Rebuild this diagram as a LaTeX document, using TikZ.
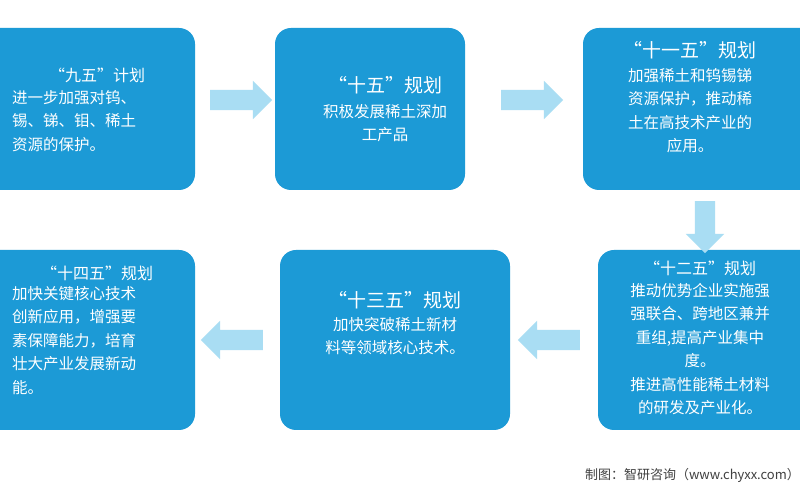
\documentclass[tikz,border=0pt]{standalone}
\usepackage{fontspec}
\setmainfont{Noto Sans CJK SC}
\usetikzlibrary{shapes.arrows}
\definecolor{boxblue}{HTML}{1C9AD6}
\definecolor{arrblue}{HTML}{A9DDF3}
\begin{document}
\begin{tikzpicture}[x=1pt,y=1pt,
  card/.style={fill=boxblue,rounded corners=16pt,draw=none},
  ttl/.style={text=white,font=\fontsize{19}{22}\selectfont},
  ttls/.style={text=white,font=\fontsize{16}{20}\selectfont},
  body/.style={text=white,font=\fontsize{15.5}{23.5}\selectfont,inner sep=0pt},
  barrow/.style={single arrow,fill=arrblue,draw=none,minimum height=62pt,minimum width=38pt,single arrow head extend=9pt,inner sep=0pt}]
\fill[white] (0,0) rectangle (800,500);
\useasboundingbox (0,0) rectangle (800,500);
\path[card] (-20,310) rectangle (195,472); \coordinate (b1) at (97,391);
\path[card] (275,310) rectangle (465,472); \coordinate (b2) at (370,391);
\path[card] (583,310) rectangle (820,472); \coordinate (b3) at (690,391);
\path[card] (598,70) rectangle (820,250); \coordinate (b4) at (700,160);
\path[card] (280,70) rectangle (510,250); \coordinate (b5) at (395,160);
\path[card] (-20,70) rectangle (195,250); \coordinate (b6) at (97,160);
\node[barrow] (a1) at (236,400) {\rule{36pt}{0pt}\rule{0pt}{20pt}};
\node[barrow] (a2) at (527,400) {\rule{36pt}{0pt}\rule{0pt}{20pt}};
\node[barrow,rotate=-90,minimum height=52pt] (a3) at (705,278) {\rule{28pt}{0pt}\rule{0pt}{20pt}};
\node[barrow,rotate=180] (a4) at (554,160) {\rule{36pt}{0pt}\rule{0pt}{20pt}};
\node[barrow,rotate=180] (a5) at (237,160) {\rule{36pt}{0pt}\rule{0pt}{20pt}};
\node[ttls] (t1) at (97,425) {“九五”计划};
\node[body,align=left,anchor=north west] (x1) at (12,410) {进一步加强对钨、\\锡、锑、钼、稀土\\资源的保护。};
\node[ttl] (t2) at (385,415) {“十五”规划};
\node[body,align=center,anchor=north] (x2) at (385,396) {积极发展稀土深加\\工产品};
\node[ttl] (t3) at (690,450) {“十一五”规划};
\node[body,align=center,anchor=north] (x3) at (690,432) {加强稀土和钨锡锑\\资源保护，推动稀\\土在高技术产业的\\应用。};
\node[ttls] (t4) at (700,232) {“十二五”规划};
\node[body,align=center,anchor=north] (x4) at (700,217) {推动优势企业实施强\\强联合、跨地区兼并\\重组,提高产业集中\\度。\\推进高性能稀土材料\\的研发及产业化。};
\node[ttl] (t5) at (395,200) {“十三五”规划};
\node[body,align=center,anchor=north] (x5) at (395,183) {加快突破稀土新材\\料等领域核心技术。};
\node[ttls] (t6) at (97,227) {“十四五”规划};
\node[body,align=left,anchor=north west] (x6) at (12,214) {加快关键核心技术\\创新应用，增强要\\素保障能力，培育\\壮大产业发展新动\\能。};
\node[text=black!75,font=\fontsize{13}{15}\selectfont,anchor=east,inner sep=0pt] (src) at (800,25) {制图：智研咨询（www.chyxx.com）};
\end{tikzpicture}
\end{document}
